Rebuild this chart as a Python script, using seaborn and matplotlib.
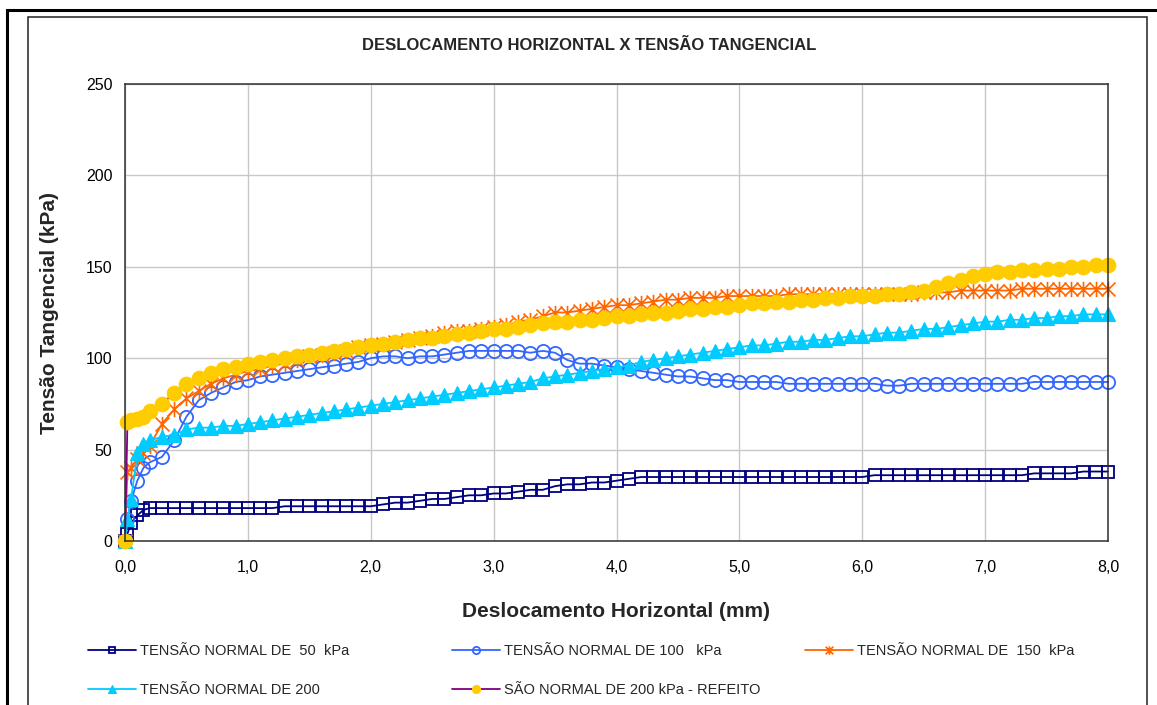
import numpy as np
import pandas as pd
import matplotlib
matplotlib.use("Agg")
import matplotlib.pyplot as plt
from matplotlib.path import Path
from matplotlib.patches import Rectangle
import seaborn as sns

# ---------------- data ----------------
desloc = [0, 0.02, 0.05, 0.1, 0.15,
          0.2, 0.3, 0.4, 0.5, 0.6, 0.7, 0.8, 0.9, 1.0, 1.1,
          1.2, 1.3, 1.4, 1.5, 1.6, 1.7, 1.8, 1.9, 2.0, 2.1,
          2.2, 2.3, 2.4, 2.5, 2.6, 2.7, 2.8, 2.9, 3.0, 3.1,
          3.2, 3.3, 3.4, 3.5, 3.6, 3.7, 3.8, 3.9, 4.0, 4.1,
          4.2, 4.3, 4.4, 4.5, 4.6, 4.7, 4.8, 4.9, 5.0, 5.1,
          5.2, 5.3, 5.4, 5.5, 5.6, 5.7, 5.8, 5.9, 6.0, 6.1,
          6.2, 6.3, 6.4, 6.5, 6.6, 6.7, 6.8, 6.9, 7.0, 7.1,
          7.2, 7.3, 7.4, 7.5, 7.6, 7.7, 7.8, 7.9, 8.0]

tensao_50 = [0, 4, 10, 14, 17,
             18, 18, 18, 18, 18, 18, 18, 18, 18, 18,
             18, 19, 19, 19, 19, 19, 19, 19, 19, 20,
             21, 21, 22, 23, 23, 24, 25, 25, 26, 26,
             27, 28, 28, 30, 31, 31, 32, 32, 33, 34,
             35, 35, 35, 35, 35, 35, 35, 35, 35, 35,
             35, 35, 35, 35, 35, 35, 35, 35, 35, 36,
             36, 36, 36, 36, 36, 36, 36, 36, 36, 36,
             36, 36, 37, 37, 37, 37, 38, 38, 38]

tensao_100 = [0, 12, 22, 33, 40,
              43, 46, 55, 68, 77, 81, 84, 87, 88, 90,
              91, 92, 93, 94, 95, 96, 97, 98, 100, 101,
              101, 100, 101, 101, 102, 103, 104, 104, 104, 104,
              104, 103, 104, 103, 99, 97, 97, 96, 95, 94,
              93, 92, 91, 90, 90, 89, 88, 88, 87, 87,
              87, 87, 86, 86, 86, 86, 86, 86, 86, 86,
              85, 85, 86, 86, 86, 86, 86, 86, 86, 86,
              86, 86, 87, 87, 87, 87, 87, 87, 87]

tensao_150 = [0, 38, 40, 45, 48,
              52, 64, 72, 78, 82, 86, 89, 91, 93, 94,
              96, 97, 99, 101, 102, 103, 104, 106, 107, 108,
              109, 110, 111, 112, 114, 115, 115, 116, 117, 118,
              120, 121, 123, 125, 125, 126, 127, 128, 129, 129,
              130, 131, 132, 132, 133, 133, 133, 134, 134, 134,
              134, 134, 135, 135, 135, 135, 135, 135, 135, 135,
              135, 135, 135, 136, 136, 136, 137, 137, 137, 137,
              137, 138, 138, 138, 138, 138, 138, 138, 138]

tensao_200 = [0, 12, 23, 48, 53,
              55, 57, 58, 61, 62, 62, 63, 63, 64, 65,
              66, 67, 68, 69, 70, 71, 72, 73, 74, 75,
              76, 77, 78, 79, 80, 81, 82, 83, 84, 85,
              86, 87, 89, 90, 91, 92, 93, 94, 95, 96,
              98, 99, 100, 101, 102, 103, 104, 105, 106, 107,
              107, 108, 109, 109, 110, 110, 111, 112, 112, 113,
              114, 114, 115, 116, 116, 117, 118, 119, 120, 120,
              121, 121, 122, 122, 123, 123, 124, 124, 124]

tensao_200_refeito = [0, 65, 66, 67, 68,
                      71, 75, 81, 86, 89, 92, 94, 95, 97, 98,
                      99, 100, 101, 102, 103, 104, 105, 106, 107, 108,
                      109, 110, 111, 111, 112, 113, 114, 115, 116, 116,
                      117, 118, 119, 120, 120, 121, 121, 122, 123, 123,
                      124, 125, 125, 126, 127, 127, 128, 128, 129, 130,
                      130, 131, 131, 132, 132, 133, 133, 134, 134, 134,
                      135, 135, 136, 137, 139, 141, 143, 145, 146, 147,
                      147, 148, 148, 149, 149, 150, 150, 151, 151]

series_labels = ["TENSÃO NORMAL DE  50  kPa",
                 "TENSÃO NORMAL DE 100   kPa",
                 "TENSÃO NORMAL DE  150  kPa",
                 "TENSÃO NORMAL DE 200",
                 "SÃO NORMAL DE 200 kPa - REFEITO"]

x_ticks = [0, 1, 2, 3, 4, 5, 6, 7, 8]
x_tick_labels = ["0,0", "1,0", "2,0", "3,0", "4,0", "5,0", "6,0", "7,0", "8,0"]
y_ticks = [0, 50, 100, 150, 200, 250]

title = "DESLOCAMENTO HORIZONTAL X TENSÃO TANGENCIAL"
x_label = "Deslocamento Horizontal (mm)"
y_label = "Tensão Tangencial (kPa)"

# ---------------- style ----------------
sns.set_style("white")
plt.rcParams["font.family"] = ["Liberation Sans", "DejaVu Sans"]

asterisk = Path([(-1, -1), (1, 1), (-1, 1), (1, -1), (0, -1.1), (0, 1.1)],
                [Path.MOVETO, Path.LINETO, Path.MOVETO, Path.LINETO,
                 Path.MOVETO, Path.LINETO])

styles = [
    dict(color="#000080", marker="s", markersize=8.5, markerfacecolor="none",
         markeredgecolor="#000080", markeredgewidth=1.3),
    dict(color="#3366FF", marker="o", markersize=9.5, markerfacecolor="none",
         markeredgecolor="#3366FF", markeredgewidth=1.3),
    dict(color="#FF6600", marker=asterisk, markersize=11, markerfacecolor="none",
         markeredgecolor="#FF6600", markeredgewidth=1.2),
    dict(color="#00CCFF", marker="^", markersize=9.5, markerfacecolor="#00CCFF",
         markeredgecolor="#00CCFF", markeredgewidth=0.8),
    dict(color="#800080", marker="o", markersize=10.5, markerfacecolor="#FFCC00",
         markeredgecolor="#FFCC00", markeredgewidth=0.8),
]

all_series = [tensao_50, tensao_100, tensao_150, tensao_200, tensao_200_refeito]

W, H = 1157, 705
fig = plt.figure(figsize=(W / 100, H / 100), dpi=100)
ax = fig.add_axes([125 / W, 1 - 541 / H, (1108 - 125) / W, (541 - 84) / H])

for vals, lab, st in zip(all_series, series_labels, styles):
    df = pd.DataFrame({"x": desloc, "y": vals})
    sns.lineplot(data=df, x="x", y="y", ax=ax, label=lab, estimator=None,
                 sort=False, linewidth=1.3, clip_on=False, **st)

handles, labels = ax.get_legend_handles_labels()
if ax.get_legend() is not None:
    ax.get_legend().remove()

ax.set_xlim(0, 8)
ax.set_ylim(0, 250)
ax.set_xticks(x_ticks)
ax.set_xticklabels(x_tick_labels)
ax.set_yticks(y_ticks)
ax.tick_params(axis="both", labelsize=11.5, length=5, width=1, color="#303030",
               direction="out", labelcolor="black")
ax.tick_params(axis="y", pad=4)
ax.tick_params(axis="x", pad=9)
ax.grid(True, color="#C8C8C8", linewidth=1)
ax.set_axisbelow(True)
for sp in ax.spines.values():
    sp.set_visible(True)
    sp.set_color("#303030")
    sp.set_linewidth(1.1)

ax.set_xlabel(x_label, fontsize=15, fontweight="bold")
ax.set_ylabel(y_label, fontsize=15, fontweight="bold")
ax.xaxis.set_label_coords(0.5, (541 - 602) / 457)
ax.yaxis.set_label_coords((59 - 125) / 983, 0.5)

fig.text(589 / W, 1 - 46 / H, title, ha="center", va="center",
         fontsize=12, fontweight="bold")

# legend entries
legend_pos = [(88, 651), (452, 651), (805, 651), (88, 690), (452, 690)]
for h, lab, (lx, ly) in zip(handles, labels, legend_pos):
    leg = fig.legend([h], [lab], loc="center left",
                     bbox_to_anchor=(lx / W, 1 - ly / H),
                     frameon=False, fontsize=10.5, handlelength=3.3,
                     handletextpad=0.25, borderpad=0, borderaxespad=0,
                     markerscale=0.55)

# chart frames
fig.add_artist(Rectangle((7 / W, -0.2), 1.5, 1.2 - 10 / H,
                         transform=fig.transFigure, fill=False,
                         edgecolor="black", linewidth=2.2))
fig.add_artist(Rectangle((28 / W, -0.2), (1147 - 28) / W, 1.2 - 17 / H,
                         transform=fig.transFigure, fill=False,
                         edgecolor="#202020", linewidth=1.1))

fig.savefig("out.png", dpi=100)
